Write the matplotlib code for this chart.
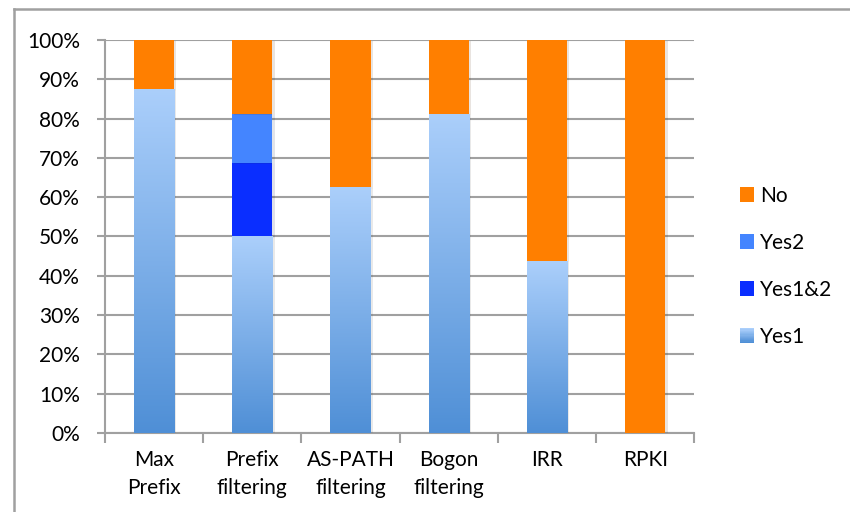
import numpy as np
import matplotlib
matplotlib.use("Agg")
import matplotlib.pyplot as plt
from matplotlib.patches import Rectangle
from matplotlib.legend_handler import HandlerBase
from matplotlib.colors import LinearSegmentedColormap
import matplotlib.patheffects as pe

# survey answers, % of respondents
categories = ["Max\nPrefix", "Prefix\nfiltering", "AS-PATH\nfiltering",
              "Bogon\nfiltering", "IRR", "RPKI"]
yes1 = [87.5, 50.0, 62.5, 81.25, 43.75, 0.0]
yes12 = [0.0, 18.75, 0.0, 0.0, 0.0, 0.0]
yes2 = [0.0, 12.5, 0.0, 0.0, 0.0, 0.0]
no = [12.5, 18.75, 37.5, 18.75, 56.25, 100.0]
yticks = [0, 10, 20, 30, 40, 50, 60, 70, 80, 90, 100]

c_no = "#ff7f00"
c_yes2 = "#4485ff"
c_yes12 = "#0a2eff"
c_top = "#abcffb"
c_bot = "#4f8fd6"
grad = LinearSegmentedColormap.from_list("yes1", [c_bot, c_top])

plt.rcParams["font.family"] = ["Lato", "DejaVu Sans"]
plt.rcParams["font.size"] = 15

fig = plt.figure(figsize=(8.5, 5.12), dpi=100)
ax = fig.add_axes([0.1235, 0.1543, 0.6935, 0.7676])

# outer frame (left and top edges)
fig.add_artist(plt.Line2D([0.016, 0.016], [0, 0.982], color="#a0a0a0", lw=1.8,
                          transform=fig.transFigure))
fig.add_artist(plt.Line2D([0.016, 1.0], [0.982, 0.982], color="#a0a0a0", lw=1.8,
                          transform=fig.transFigure))

x = np.arange(len(categories))
w = 0.41
shadow = [pe.SimplePatchShadow(offset=(1.5, -1), alpha=0.12), pe.Normal()]

yes1 = np.array(yes1)
yes12 = np.array(yes12)
yes2 = np.array(yes2)
no = np.array(no)

bars1 = ax.bar(x, yes1, w, color="none", zorder=3)
ax.bar(x, yes12, w, bottom=yes1, color=c_yes12, zorder=3, path_effects=shadow)
ax.bar(x, yes2, w, bottom=yes1 + yes12, color=c_yes2, zorder=3, path_effects=shadow)
ax.bar(x, no, w, bottom=yes1 + yes12 + yes2, color=c_no, zorder=3, path_effects=shadow)

# gradient fill for Yes1 segments
g = np.linspace(0, 1, 256).reshape(-1, 1)
for b in bars1:
    h = b.get_height()
    if h <= 0:
        continue
    x0 = b.get_x()
    shadow_rect = Rectangle((x0, 0), b.get_width(), h, facecolor="white",
                            edgecolor="none", zorder=2.9, path_effects=shadow)
    ax.add_patch(shadow_rect)
    im = ax.imshow(g, cmap=grad, origin="lower", aspect="auto",
                   extent=(x0, x0 + b.get_width(), 0, h), zorder=3.1)
    im.set_clip_path(b)

ax.set_xlim(-0.5, len(categories) - 0.5)
ax.set_ylim(0, 100)
ax.set_yticks(yticks)
ax.set_yticklabels([f"{t}%" for t in yticks])
ax.set_xticks(x)
ax.set_xticklabels(categories, linespacing=1.55)
ax.tick_params(axis="x", length=0, pad=12)
ax.set_xticks(np.arange(-0.5, len(categories)), minor=True)
ax.tick_params(axis="x", which="minor", length=7, width=1.5, color="#a0a0a0")
ax.tick_params(axis="y", length=6, width=1.5, color="#a0a0a0", pad=12)

ax.yaxis.grid(True, color="#a0a0a0", lw=1.5, zorder=0)
ax.set_axisbelow(True)
for s in ["top", "right"]:
    ax.spines[s].set_visible(False)
for s in ["left", "bottom"]:
    ax.spines[s].set_color("#a0a0a0")
    ax.spines[s].set_linewidth(1.5)


class GradientHandler(HandlerBase):
    def create_artists(self, legend, orig_handle, xdescent, ydescent, width,
                       height, fontsize, trans):
        n = 12
        out = []
        for i in range(n):
            out.append(Rectangle((xdescent, ydescent + height * i / n),
                                 width, height / n + 0.2,
                                 facecolor=grad(i / (n - 1)), edgecolor="none",
                                 transform=trans))
        return out


h_no = Rectangle((0, 0), 1, 1, facecolor=c_no)
h_yes2 = Rectangle((0, 0), 1, 1, facecolor=c_yes2)
h_yes12 = Rectangle((0, 0), 1, 1, facecolor=c_yes12)
h_yes1 = Rectangle((0, 0), 1, 1, facecolor=c_top)
fig.legend([h_no, h_yes2, h_yes12, h_yes1], ["No", "Yes2", "Yes1&2", "Yes1"],
           handler_map={h_yes1: GradientHandler()},
           loc="center left", bbox_to_anchor=(0.848, 0.48), frameon=False,
           handlelength=0.7, handleheight=0.7, handletextpad=0.3,
           labelspacing=1.3, fontsize=15)

fig.savefig("out.png", dpi=100)
